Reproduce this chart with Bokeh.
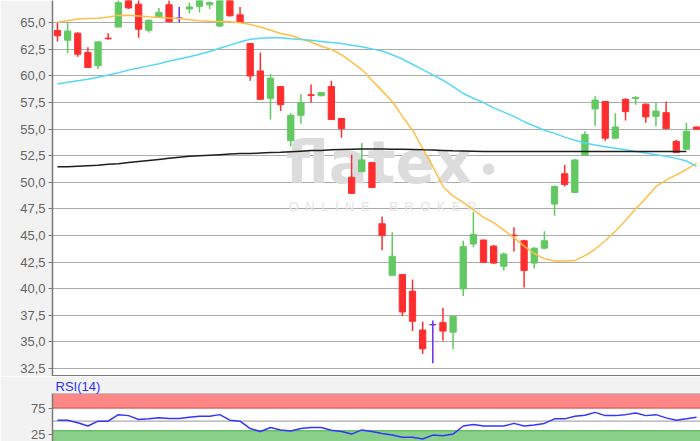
from bokeh.plotting import figure
from bokeh.layouts import column
from bokeh.models import (Range1d, FixedTicker, CustomJSTickFormatter, Span,
                          BoxAnnotation, Label, ColumnDataSource)
from bokeh.embed import file_html
from bokeh.resources import INLINE

# ---------------- data ----------------
OPEN = [64.28, 63.37, 64.03, 62.20, 60.96, 63.56, 64.60, 67.40, 66.75, 64.30,
        65.56, 66.70, 65.44, 66.30, 66.55, 66.70, 64.70, 67.40, 65.75, 63.05,
        60.47, 57.90, 59.00, 53.90, 56.30, 58.23, 58.14, 59.00, 56.00, 50.46,
        51.00, 51.85, 46.10, 41.25, 41.32, 39.75, 36.10, 36.60, 36.80, 35.90,
        39.97, 44.20, 44.57, 44.00, 42.10, 45.03, 44.50, 42.40, 43.80, 47.95,
        50.80, 49.05, 52.55, 56.90, 57.60, 54.15, 57.80, 57.88, 57.35, 56.20,
        56.55, 53.85, 53.10, 55.20]
HIGH = [65.00, 65.00, 64.10, 62.70, 63.30, 64.03, 67.30, 67.80, 67.20, 65.30,
        66.40, 67.10, 66.50, 66.90, 67.50, 67.00, 67.60, 67.80, 66.50, 63.10,
        62.20, 60.20, 59.00, 56.50, 58.30, 59.20, 58.50, 59.55, 56.00, 52.60,
        53.70, 51.90, 46.77, 45.30, 41.32, 40.85, 36.90, 37.00, 38.20, 37.40,
        44.50, 47.20, 44.60, 44.10, 43.40, 45.76, 44.60, 43.90, 45.40, 49.70,
        51.65, 52.20, 54.80, 58.10, 57.60, 56.50, 57.90, 58.10, 57.40, 57.50,
        57.60, 54.00, 55.60, 55.25]
LOW = [63.24, 62.15, 61.80, 60.75, 60.65, 63.40, 64.60, 66.30, 63.60, 64.10,
       65.50, 65.05, 65.03, 65.90, 65.97, 66.30, 64.60, 65.60, 65.00, 59.55,
       57.80, 55.90, 56.70, 53.40, 55.50, 57.50, 58.10, 55.90, 54.20, 48.90,
       51.00, 49.50, 43.60, 41.25, 37.40, 36.00, 33.85, 32.97, 35.10, 34.30,
       39.30, 43.90, 42.40, 42.30, 41.70, 43.50, 40.10, 41.90, 43.70, 46.85,
       49.60, 49.00, 52.50, 55.30, 53.90, 54.10, 55.80, 57.30, 55.60, 55.25,
       55.00, 52.75, 53.05, 54.95]
CLOSE = [63.78, 64.22, 62.05, 60.80, 63.20, 63.50, 66.90, 66.40, 64.40, 65.25,
         65.97, 65.10, 65.44, 66.50, 67.20, 66.90, 67.30, 65.66, 65.03, 60.00,
         57.80, 59.80, 57.30, 56.30, 57.50, 58.17, 58.45, 55.90, 55.05, 48.96,
         52.10, 49.50, 45.00, 43.04, 37.80, 36.93, 34.33, 36.60, 36.00, 37.40,
         43.95, 45.10, 42.47, 42.40, 43.25, 44.97, 41.70, 43.80, 44.50, 49.60,
         49.80, 52.10, 54.50, 57.73, 54.15, 55.20, 56.65, 57.98, 56.15, 56.70,
         55.05, 52.80, 54.80, 55.00]
SMA_ORANGE = [65.05, 65.20, 65.35, 65.40, 65.44, 65.55, 65.70, 65.72, 65.65, 65.57,
              65.50, 65.45, 65.40, 65.30, 65.20, 65.15, 65.12, 65.09, 65.00, 64.85,
              64.60, 64.30, 64.00, 63.80, 63.50, 63.20, 62.80, 62.50, 62.00, 61.30,
              60.60, 59.60, 58.60, 57.60, 56.20, 54.90, 53.20, 51.50, 49.60, 48.70,
              48.10, 47.40, 46.70, 46.20, 45.50, 44.80, 44.00, 43.30, 42.80, 42.60,
              42.60, 42.65, 43.10, 43.70, 44.50, 45.40, 46.40, 47.50, 48.50, 49.60,
              50.20, 50.70, 51.20, 51.80]
SMA_CYAN = [59.25, 59.40, 59.55, 59.70, 59.88, 60.10, 60.30, 60.55, 60.75, 60.95,
            61.15, 61.40, 61.60, 61.80, 62.05, 62.30, 62.60, 62.90, 63.20, 63.45,
            63.55, 63.60, 63.60, 63.50, 63.42, 63.35, 63.25, 63.15, 63.05, 62.90,
            62.75, 62.55, 62.35, 62.00, 61.60, 61.10, 60.60, 60.10, 59.60, 59.00,
            58.35, 57.90, 57.50, 57.00, 56.60, 56.20, 55.70, 55.30, 54.90, 54.60,
            54.25, 53.95, 53.70, 53.50, 53.35, 53.20, 53.05, 52.90, 52.75, 52.60,
            52.45, 52.25, 52.00, 51.50]
SMA_BLACK = [51.45, 51.45, 51.50, 51.55, 51.60, 51.70, 51.75, 51.85, 51.95, 52.05,
             52.15, 52.25, 52.35, 52.45, 52.50, 52.55, 52.60, 52.65, 52.70, 52.70,
             52.75, 52.80, 52.82, 52.88, 52.93, 52.98, 53.00, 53.05, 53.08, 53.10,
             53.12, 53.12, 53.12, 53.10, 53.10, 53.08, 53.05, 53.03, 53.00, 52.97,
             52.95, 52.93, 52.90, 52.90, 52.90, 52.90, 52.90, 52.90, 52.90, 52.90,
             52.90, 52.90, 52.90, 52.90, 52.90, 52.90, 52.90, 52.90, 52.90, 52.90,
             52.90, 52.90, 52.90]
RSI = [51.9, 51.9, 47.0, 40.7, 50.0, 50.0, 62.5, 60.6, 53.2, 54.4,
       56.3, 55.0, 55.0, 57.5, 59.3, 59.3, 62.5, 51.9, 50.0, 35.8,
       30.2, 37.7, 33.2, 31.3, 35.8, 37.7, 37.7, 32.6, 30.2, 25.2,
       33.2, 30.2, 26.5, 23.3, 19.0, 19.0, 15.9, 23.3, 22.0, 25.2,
       40.7, 43.8, 40.7, 40.7, 40.7, 45.7, 40.7, 42.5, 45.7, 54.4,
       54.4, 59.3, 61.2, 66.8, 60.6, 60.6, 62.5, 65.6, 60.6, 62.5,
       56.3, 51.9, 54.4, 57.5]
Y_TICKS = [32.5, 35.0, 37.5, 40.0, 42.5, 45.0, 47.5, 50.0, 52.5, 55.0,
           57.5, 60.0, 62.5, 65.0, 67.5]
Y_TICK_LABELS = ["32,5", "35,0", "37,5", "40,0", "42,5", "45,0", "47,5", "50,0",
                 "52,5", "55,0", "57,5", "60,0", "62,5", "65,0", "67,5"]
RSI_TICKS = [25, 75]
RSI_TICK_LABELS = ["25", "75"]
RSI_UPPER = 75
RSI_LOWER = 31.5
RSI_MID = 50

RED = "#ff2e2e"
GREEN = "#62c962"
PURPLE = "#6a2ee8"
AXIS_C = "#7a7a7a"
LABEL_C = "#666666"
BG = "#f2f2f2"

n = len(OPEN)
idx = list(range(n))
colors = []
for o, c in zip(OPEN, CLOSE):
    colors.append(GREEN if c > o else (RED if c < o else PURPLE))
body_top = [max(o, c) for o, c in zip(OPEN, CLOSE)]
body_bot = [min(o, c) for o, c in zip(OPEN, CLOSE)]
src = ColumnDataSource(dict(x=idx, high=HIGH, low=LOW, top=body_top,
                            bottom=body_bot, color=colors))

def tick_fmt(tv, tl):
    return CustomJSTickFormatter(args=dict(tvals=tv, tlabels=tl), code="""
        const i = tvals.findIndex(t => Math.abs(t - tick) < 1e-6);
        return i >= 0 ? tlabels[i] : '';
    """)

def style_yaxis(ax):
    ax.major_label_text_font = "Liberation Sans"
    ax.major_label_text_font_size = "13px"
    ax.major_label_text_color = LABEL_C
    ax.axis_line_color = AXIS_C
    ax.axis_line_width = 1.5
    ax.major_tick_line_color = AXIS_C
    ax.major_tick_out = 4
    ax.major_tick_in = 0
    ax.minor_tick_line_color = None
    ax.major_label_standoff = 3

x_range = Range1d(-0.49, 63.39)

# ---------------- main price chart ----------------
p1 = figure(width=700, height=376, x_range=x_range, y_range=Range1d(31.73, 67.10),
            output_backend="svg", toolbar_location=None, x_axis_location=None,
            min_border_left=52, min_border_right=0, min_border_top=0, min_border_bottom=0,
            background_fill_color="white", border_fill_color=BG, outline_line_color=None)
p1.xgrid.visible = False
p1.ygrid.ticker = FixedTicker(ticks=Y_TICKS)
p1.ygrid.grid_line_color = "#ababab"
p1.ygrid.grid_line_width = 1.2
p1.yaxis.ticker = FixedTicker(ticks=Y_TICKS)
p1.yaxis.formatter = tick_fmt(Y_TICKS, Y_TICK_LABELS)
style_yaxis(p1.yaxis[0])

# watermark
SP = "\u2002"
sub = SP.join("ONLINE") + SP * 3 + SP.join("BROKER")
p1.add_layout(Label(x=22.5, y=51.77, text="flatex", text_font="DejaVu Sans",
                    text_font_style="bold", text_font_size="58px", text_color="#dcdcdc",
                    text_baseline="middle", level="underlay"))
p1.add_layout(Label(x=42.5, y=51.39, text="\u25cf", text_font="DejaVu Sans",
                    text_font_size="15px", text_color="#dcdcdc", text_align="center",
                    text_baseline="middle", level="underlay"))
p1.add_layout(Label(x=22.8, y=47.75, text=sub,
                    text_font="Liberation Sans", text_font_size="13px",
                    text_color="#e4e4e4", text_baseline="middle", level="underlay"))

p1.segment(x0="x", y0="high", x1="x", y1="low", source=src, line_color="color",
           line_width=1.5)
p1.vbar(x="x", width=0.62, top="top", bottom="bottom", source=src, fill_color="color",
        line_color="color", line_width=1)

p1.line(idx, SMA_ORANGE, line_color="#ffbf47", line_width=1.5)
p1.line(idx, SMA_CYAN, line_color="#55d8f5", line_width=1.5)
p1.line(list(range(len(SMA_BLACK))), SMA_BLACK, line_color="#1e1e1e", line_width=1.5)

p1.add_layout(Span(location=31.80, dimension="width", line_color=AXIS_C, line_width=1.5))

# ---------------- RSI panel ----------------
p2 = figure(width=700, height=65, x_range=x_range, y_range=Range1d(11.0, 103.0),
            output_backend="svg", toolbar_location=None, x_axis_location=None,
            min_border_left=52, min_border_right=0, min_border_top=17, min_border_bottom=0,
            background_fill_color="white", border_fill_color=BG,
            outline_line_color=None, title="RSI(14)")
p2.title.text_font = "Liberation Sans"
p2.title.text_font_size = "13px"
p2.title.text_font_style = "normal"
p2.title.text_color = "#2f2fff"
p2.title.align = "left"
p2.title.offset = 3
p2.title.standoff = 0
p2.xgrid.visible = False
p2.ygrid.visible = False
p2.yaxis.ticker = FixedTicker(ticks=RSI_TICKS)
p2.yaxis.formatter = tick_fmt(RSI_TICKS, RSI_TICK_LABELS)
style_yaxis(p2.yaxis[0])

p2.add_layout(BoxAnnotation(bottom=RSI_UPPER, fill_color="#ff8787", fill_alpha=1,
                            line_color=None, level="underlay"))
p2.add_layout(BoxAnnotation(top=RSI_LOWER, fill_color="#8ad08a", fill_alpha=1,
                            line_color=None, level="underlay"))
p2.add_layout(Span(location=RSI_UPPER, dimension="width", line_color="#e06464",
                   line_width=1.5, level="underlay"))
p2.add_layout(Span(location=RSI_LOWER, dimension="width", line_color="#68bd68",
                   line_width=1.5, level="underlay"))
p2.add_layout(Span(location=RSI_MID, dimension="width", line_color="#ababab",
                   line_width=1.2, level="underlay"))
p2.add_layout(Span(location=102.8, dimension="width", line_color="#9a9a9a",
                   line_width=1.2))
p2.line(idx, RSI, line_color="#3434ff", line_width=1.5)

layout = column(p1, p2)
open("out.html", "w").write(file_html(layout, INLINE))
